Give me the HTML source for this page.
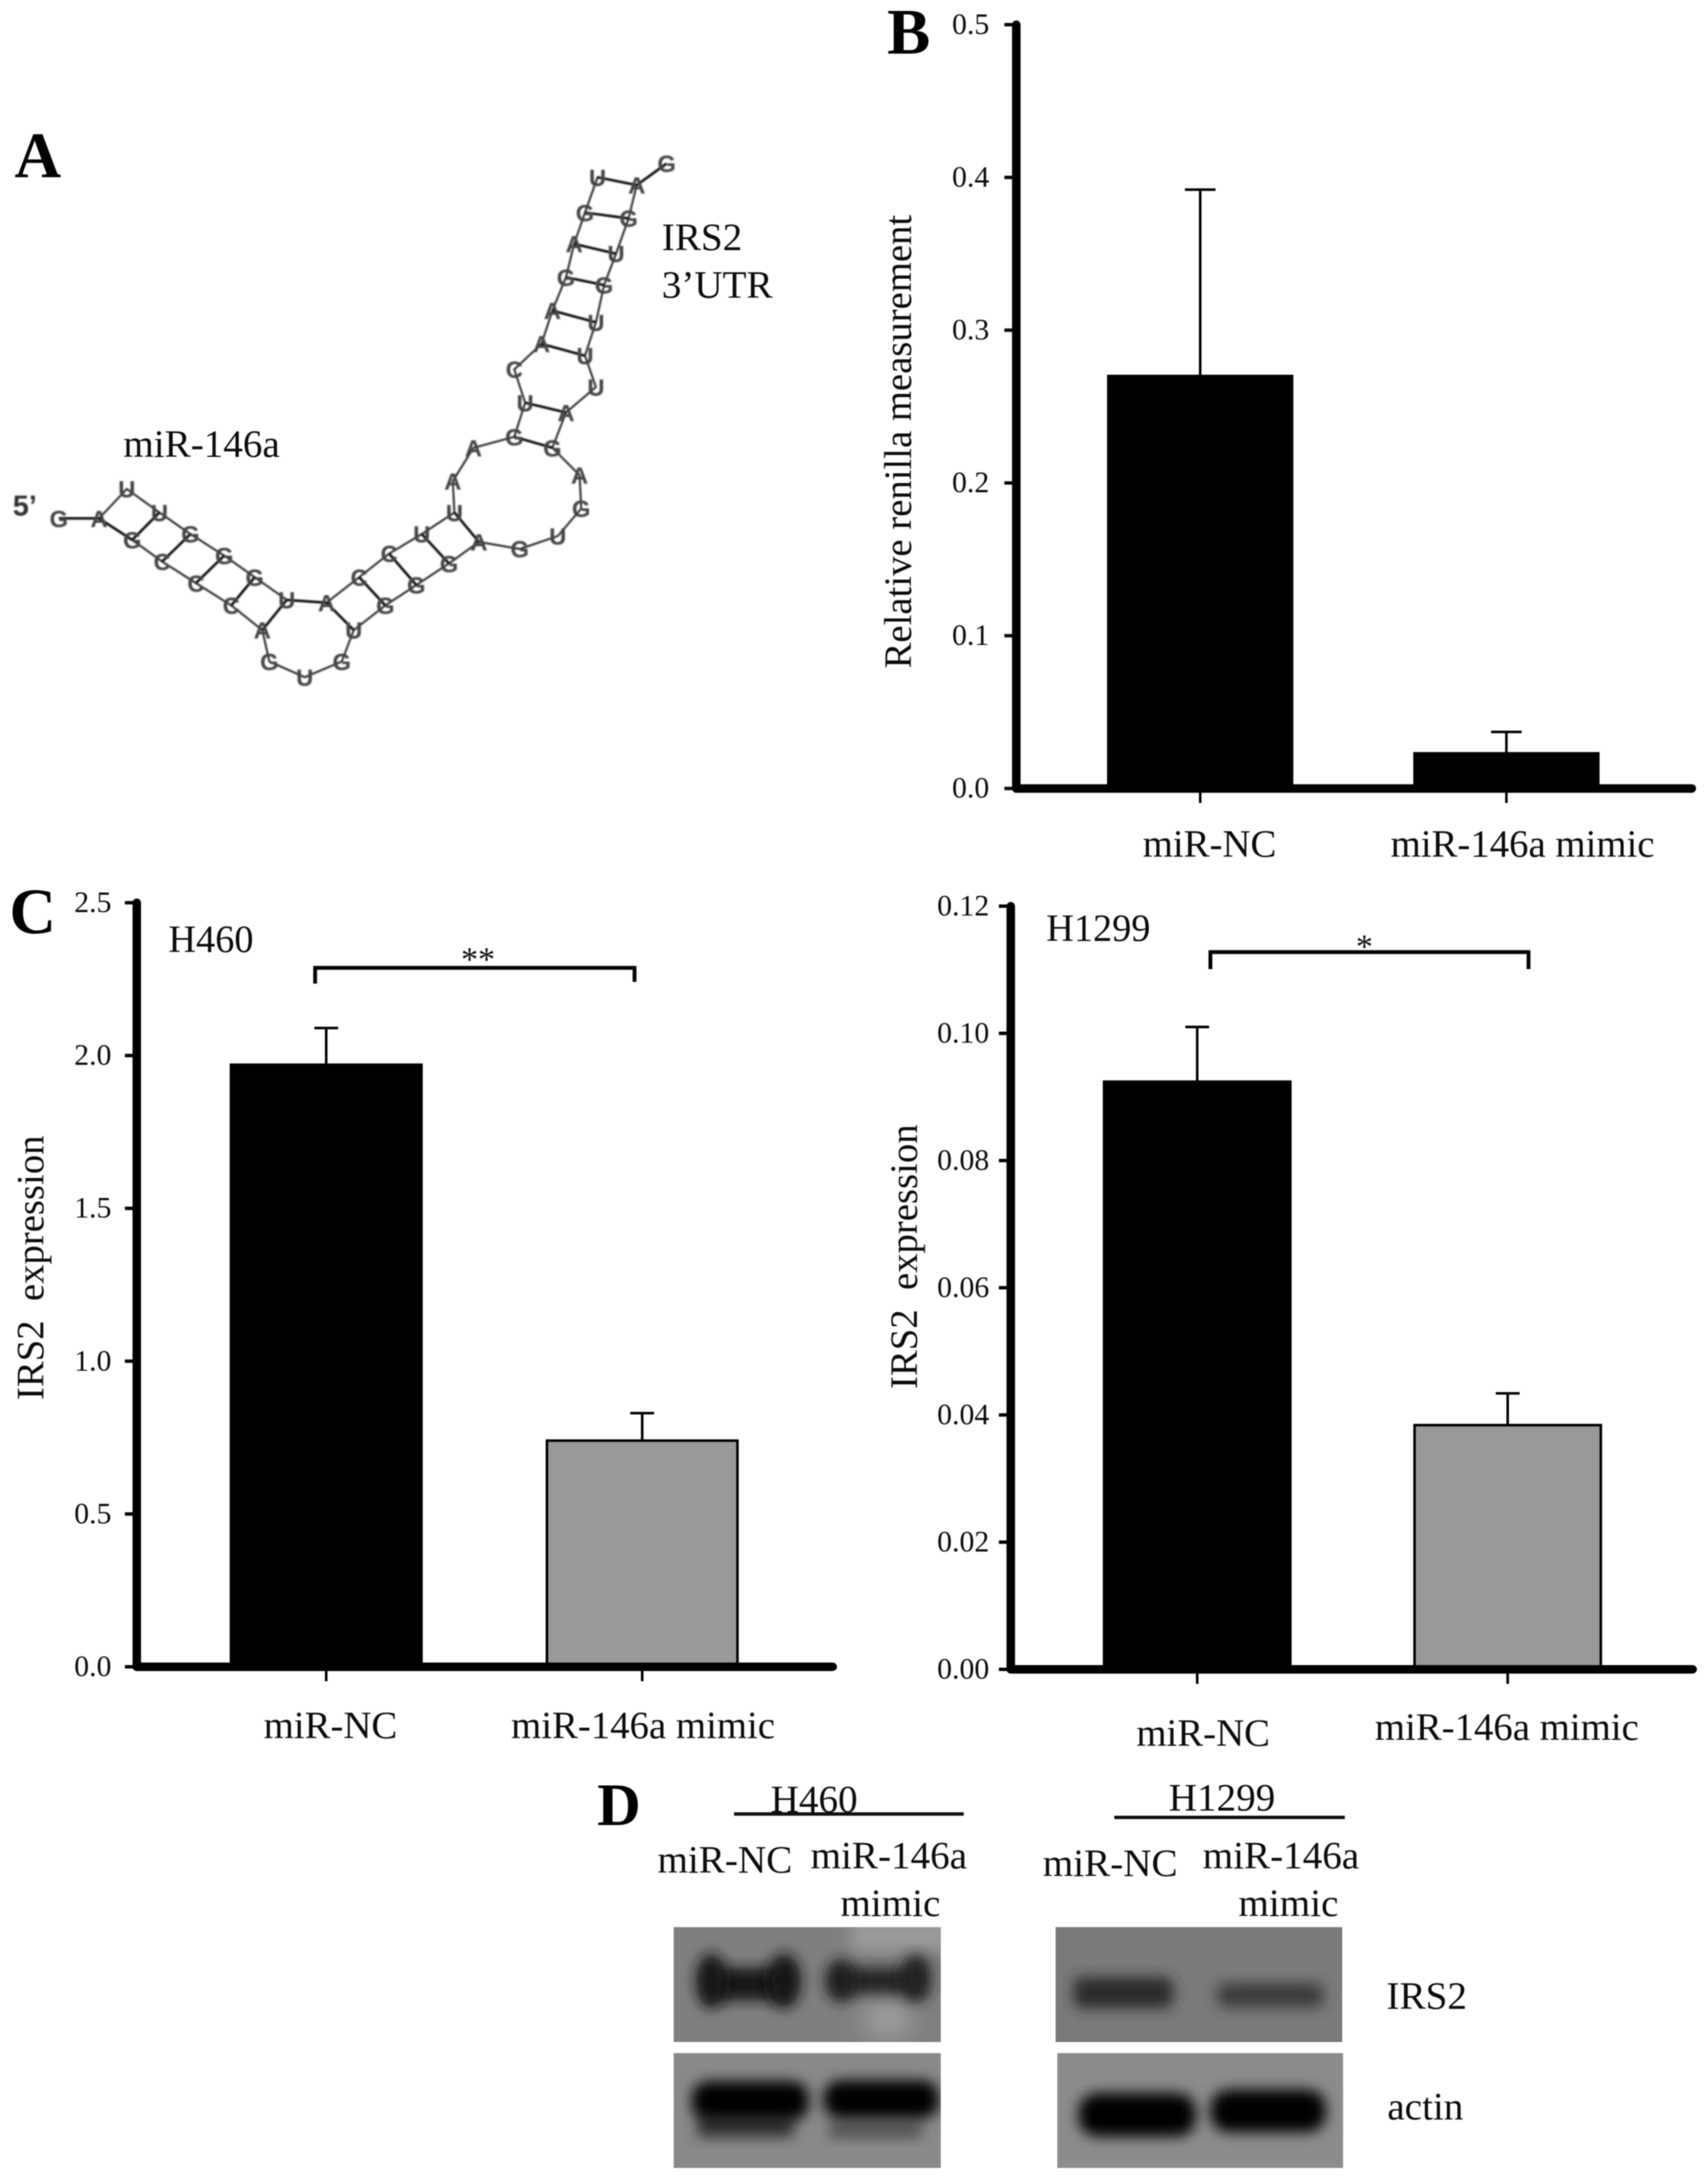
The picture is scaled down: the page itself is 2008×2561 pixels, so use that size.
<!DOCTYPE html>
<html lang="en">
<head>
<meta charset="utf-8">
<title>miR-146a targets IRS2</title>
<style>
html,body{margin:0;padding:0;background:#fff;width:2008px;height:2561px;overflow:hidden}
svg{display:block}
text{font-family:"Liberation Serif",serif;fill:#0c0c0c}
.panel{font-weight:bold;font-size:76px;fill:#000}
.lab{font-size:46px}
</style>
</head>
<body>
<svg id="figure" xmlns="http://www.w3.org/2000/svg" width="2008" height="2561" viewBox="0 0 2008 2561" style="filter:blur(0.5px)">
<defs>
<filter id="b7" x="-50%" y="-50%" width="200%" height="200%"><feGaussianBlur stdDeviation="8"/></filter>
<filter id="b14" x="-50%" y="-50%" width="200%" height="200%"><feGaussianBlur stdDeviation="14"/></filter>
<filter id="soft" x="-5%" y="-5%" width="110%" height="110%"><feGaussianBlur stdDeviation="0.9"/></filter>
<clipPath id="c1"><rect x="792" y="2265" width="314" height="135"/></clipPath>
<clipPath id="c2"><rect x="792" y="2413" width="314" height="135"/></clipPath>
<clipPath id="c3"><rect x="1241" y="2265" width="337" height="135"/></clipPath>
<clipPath id="c4"><rect x="1243" y="2413" width="336" height="135"/></clipPath>
</defs>

<text class="panel" x="17" y="208">A</text>
<text class="panel" x="1043" y="63">B</text>
<text class="panel" x="11" y="1097">C</text>
<text class="panel" x="702" y="2145" style="font-size:71px">D</text>

<g id="rna" filter="url(#soft)"></g>
<text class="lab" x="778" y="294">IRS2</text>
<text class="lab" x="778" y="350">3’UTR</text>
<text class="lab" x="145" y="537">miR-146a</text>

<g id="chart-b"></g>
<g id="chart-c1"></g>
<g id="chart-c2"></g>

<g>
<text class="lab" x="906" y="2130">H460</text>
<rect x="863" y="2130" width="270" height="4" fill="#111"/>
<text class="lab" x="1374" y="2128">H1299</text>
<rect x="1310" y="2134" width="271" height="4" fill="#111"/>
<text class="lab" x="773" y="2201">miR-NC</text>
<text class="lab" x="953" y="2196">miR-146a</text>
<text class="lab" x="988" y="2252">mimic</text>
<text class="lab" x="1226" y="2205">miR-NC</text>
<text class="lab" x="1414" y="2196">miR-146a</text>
<text class="lab" x="1456" y="2252">mimic</text>
<text class="lab" x="1630" y="2361">IRS2</text>
<text class="lab" x="1631" y="2491">actin</text>

<g clip-path="url(#c1)">
<rect x="792" y="2265" width="314" height="135" fill="#7f7f7f"/>
<rect x="1000" y="2255" width="115" height="38" fill="#9a9a9a" filter="url(#b7)"/>
<ellipse cx="1043" cy="2373" rx="30" ry="24" fill="#9c9c9c" filter="url(#b14)"/>
<rect x="832" y="2313" width="94" height="38" fill="#141414" filter="url(#b7)"/>
<ellipse cx="836" cy="2328" rx="18" ry="32" fill="#141414" filter="url(#b7)"/>
<ellipse cx="922" cy="2328" rx="20" ry="32" fill="#141414" filter="url(#b7)"/>
<rect x="990" y="2313" width="92" height="30" fill="#222" filter="url(#b7)"/>
<ellipse cx="988" cy="2328" rx="18" ry="25" fill="#1c1c1c" filter="url(#b7)"/>
<ellipse cx="1077" cy="2325" rx="18" ry="28" fill="#222" filter="url(#b7)"/>
</g>
<g clip-path="url(#c2)">
<rect x="792" y="2413" width="314" height="135" fill="#8a8a8a"/>
<rect x="820" y="2486" width="113" height="26" fill="#333" filter="url(#b7)"/>
<rect x="975" y="2494" width="108" height="19" fill="#505050" filter="url(#b7)"/>
<rect x="813" y="2446" width="138" height="46" rx="20" fill="#000" filter="url(#b7)"/>
<rect x="968" y="2445" width="136" height="45" rx="20" fill="#000" filter="url(#b7)"/>
</g>
<g clip-path="url(#c3)">
<rect x="1241" y="2265" width="337" height="135" fill="#7a7a7a"/>
<rect x="1262" y="2324" width="117" height="36" rx="10" fill="#2a2a2a" filter="url(#b7)"/>
<rect x="1431" y="2331" width="125" height="28" rx="10" fill="#3a3a3a" filter="url(#b7)"/>
</g>
<g clip-path="url(#c4)">
<rect x="1243" y="2413" width="336" height="135" fill="#8c8c8c"/>
<rect x="1268" y="2460" width="138" height="51" rx="22" fill="#000" filter="url(#b7)"/>
<rect x="1423" y="2456" width="136" height="50" rx="22" fill="#000" filter="url(#b7)"/>
</g>
</g>
</svg>

<script>
/* ---------- chart data ---------- */
const barCategories = ['miR-NC', 'miR-146a mimic'];

const renillaTicks = ['0.0', '0.1', '0.2', '0.3', '0.4', '0.5'];
const renillaValues = [0.27, 0.023];
const renillaErrors = [0.122, 0.014];

const h460Ticks = ['0.0', '0.5', '1.0', '1.5', '2.0', '2.5'];
const h460Values = [1.97, 0.74];
const h460Errors = [0.12, 0.09];

const h1299Ticks = ['0.00', '0.02', '0.04', '0.06', '0.08', '0.10', '0.12'];
const h1299Values = [0.0924, 0.0384];
const h1299Errors = [0.0086, 0.005];

/* ---------- svg helper ---------- */
const NS = 'http://www.w3.org/2000/svg';
function mk(tag, attrs, parent) {
  const node = document.createElementNS(NS, tag);
  for (const k in attrs) node.setAttribute(k, attrs[k]);
  parent.appendChild(node);
  return node;
}

function drawChart(root, cats, ticks, values, errors, L) {
  const tMin = parseFloat(ticks[0]);
  const tMax = parseFloat(ticks[ticks.length - 1]);
  const yScale = function (v) { return L.y0 + (L.yTop - L.y0) * (v - tMin) / (tMax - tMin); };
  const xScale = function (i) { return L.x0 + i * L.step; };

  ticks.forEach(function (t) {
    const y = yScale(parseFloat(t));
    const tick = mk('line', {x1: L.axisX - 14, x2: L.axisX, y1: y, y2: y, stroke: '#000', 'stroke-width': 4}, root);
    
    
    const lab = mk('text', {x: L.tickRight, y: y + 11, 'text-anchor': 'end', 'font-size': 35}, root);
    lab.textContent = t;
    
    
  });

  values.forEach(function (v, i) {
    const cx = xScale(i);
    const top = yScale(v);
    const errTop = yScale(v + errors[i]);
    const stem = mk('line', {x1: cx, x2: cx, y1: top, y2: errTop, stroke: '#000', 'stroke-width': 3}, root);
    
    
    const cap = mk('line', {x1: cx - L.cap, x2: cx + L.cap, y1: errTop, y2: errTop, stroke: '#000', 'stroke-width': 3}, root);
    
    
    const bar = mk('rect', {x: cx - L.barW / 2, y: top, width: L.barW, height: yScale(tMin) - top, fill: L.fills[i], stroke: '#000', 'stroke-width': 3}, root);
    
    
    const xt = mk('line', {x1: cx, x2: cx, y1: L.y0, y2: L.y0 + 17, stroke: '#000', 'stroke-width': 3}, root);
    
    
    const cl = mk('text', {x: cx + L.labelDx[i], y: L.labelY[i], 'text-anchor': 'middle', 'font-size': 45.6}, root);
    cl.textContent = cats[i];
    
    
  });

  const yAxis = mk('line', {x1: L.axisX, x2: L.axisX, y1: L.yTop, y2: L.y0, stroke: '#000', 'stroke-width': 10, 'stroke-linecap': 'round'}, root);
  
  
  const xAxis = mk('line', {x1: L.axisX, x2: L.xEnd, y1: L.y0, y2: L.y0, stroke: '#000', 'stroke-width': 10, 'stroke-linecap': 'round'}, root);
  
  

  const title = mk('text', {transform: 'translate(' + L.titleX + ',' + L.titleY + ') rotate(-90)', 'text-anchor': 'middle', 'font-size': 45.5}, root);
  title.textContent = L.title;
  
  

  if (L.bracket) {
    const b = L.bracket;
    const br = mk('path', {d: 'M' + b.x1 + ' ' + b.d1 + 'V' + b.y + 'H' + b.x2 + 'V' + b.d2, fill: 'none', stroke: '#000', 'stroke-width': 4.5}, root);
    
    
    const st = mk('text', {x: b.sx, y: b.sy, 'text-anchor': 'middle', 'font-size': 40}, root);
    st.textContent = b.stars;
    
    
    const cell = mk('text', {x: b.cx, y: b.cy, 'font-size': 45}, root);
    cell.textContent = b.cell;
    
    
  }
}

drawChart(document.getElementById('chart-b'), barCategories, renillaTicks, renillaValues, renillaErrors, {
  axisX: 1194.8, y0: 926.7, yTop: 29, xEnd: 1989, x0: 1411, step: 360, barW: 216, cap: 18,
  tickRight: 1163, fills: ['#000', '#000'], labelDx: [11, 19], labelY: [1007, 1007],
  title: 'Relative renilla measurement', titleX: 1071, titleY: 519
});
drawChart(document.getElementById('chart-c1'), barCategories, h460Ticks, h460Values, h460Errors, {
  axisX: 160.8, y0: 1959, yTop: 1061, xEnd: 979, x0: 383.5, step: 371.5, barW: 224, cap: 14,
  tickRight: 131, fills: ['#000', '#999'], labelDx: [5, 1], labelY: [2043, 2043],
  title: 'IRS2\u00a0\u00a0expression', titleX: 51, titleY: 1490,
  bracket: {x1: 370.5, x2: 746, y: 1137.5, d1: 1156, d2: 1154, sx: 562, sy: 1141, stars: '**', cx: 198, cy: 1119, cell: 'H460'}
});
drawChart(document.getElementById('chart-c2'), barCategories, h1299Ticks, h1299Values, h1299Errors, {
  axisX: 1188.3, y0: 1962, yTop: 1065, xEnd: 1990, x0: 1407.5, step: 365, barW: 219, cap: 14,
  tickRight: 1163, fills: ['#000', '#999'], labelDx: [7, -1], labelY: [2052, 2045],
  title: 'IRS2\u00a0\u00a0expression', titleX: 1078, titleY: 1477,
  bracket: {x1: 1423, x2: 1797, y: 1119, d1: 1139, d2: 1139, sx: 1604, sy: 1126, stars: '*', cx: 1230, cy: 1106, cell: 'H1299'}
});

/* ---------- RNA duplex diagram (panel A) ---------- */
const rnaLoop = [
  ['A',182,1040],['U',233,965],['U',293,1025],['G',350,1080],['G',412,1135],['G',468,1190],['U',527,1248],
  ['A',600,1255],['C',660,1190],['C',715,1130],['U',775,1080],['U',835,1025],['A',832,945],['A',870,860],
  ['G',945,832],['U',965,745],['C',945,660],['A',995,595],['A',1015,510],['G',1040,425],['A',1055,340],
  ['G',1075,260],['U',1098,170],['A',1170,190],['G',1155,275],['U',1132,365],['G',1110,445],['U',1095,540],
  ['U',1075,625],['U',1095,705],['A',1040,770],['G',1015,860],['A',1065,930],['G',1068,1015],['U',1025,1085],
  ['G',955,1118],['A',880,1100],['G',825,1155],['G',765,1210],['G',708,1262],['U',650,1325],['G',628,1405],
  ['U',560,1445],['G',495,1405],['A',482,1325],['C',425,1262],['C',360,1205],['C',298,1150],['G',243,1095]
];
const rnaPairs = [
  [182,1040,243,1095],[293,1025,243,1095],[350,1080,298,1150],[412,1135,360,1205],[468,1190,425,1262],
  [527,1248,482,1325],[527,1248,600,1255],[600,1255,650,1325],[660,1190,708,1262],[715,1130,765,1210],
  [775,1080,825,1155],[835,1025,880,1100],[945,832,1015,860],[965,745,1040,770],[995,595,1075,625],
  [1015,510,1095,540],[1040,425,1110,445],[1055,340,1132,365],[1075,260,1155,275],[1098,170,1170,190],
  [108,1040,182,1040],[1170,190,1225,135]
];
const rnaExtra = [['G',108,1040],['G',1225,135]];
const rx = function (z) { return z / 1.563; };
const ry = function (z) { return 130 + z / 2.17; };
const rnaRoot = document.getElementById('rna');

const loopLine = mk('polygon', {points: rnaLoop.map(function (p) { return rx(p[1]) + ',' + ry(p[2]); }).join(' '), fill: 'none', stroke: '#333', 'stroke-width': 2.4}, rnaRoot);



rnaPairs.forEach(function (p, i) {
  const pair = mk('line', {x1: rx(p[0]), y1: ry(p[1]), x2: rx(p[2]), y2: ry(p[3]), stroke: '#111', 'stroke-width': 3}, rnaRoot);
  
  
});

rnaLoop.concat(rnaExtra).forEach(function (p, i) {
  const t = mk('text', {x: rx(p[1]), y: ry(p[2]) + 10, 'text-anchor': 'middle', 'font-size': 28, 'font-weight': 'bold', style: 'font-family:"Liberation Sans",sans-serif;fill:#444'}, rnaRoot);
  t.textContent = p[0];
  
  
});

const fivePrime = mk('text', {x: 15, y: 606, 'font-size': 34, 'font-weight': 'bold', style: 'font-family:"Liberation Sans",sans-serif;fill:#333'}, rnaRoot);
fivePrime.textContent = '5’';


</script>
</body>
</html>
